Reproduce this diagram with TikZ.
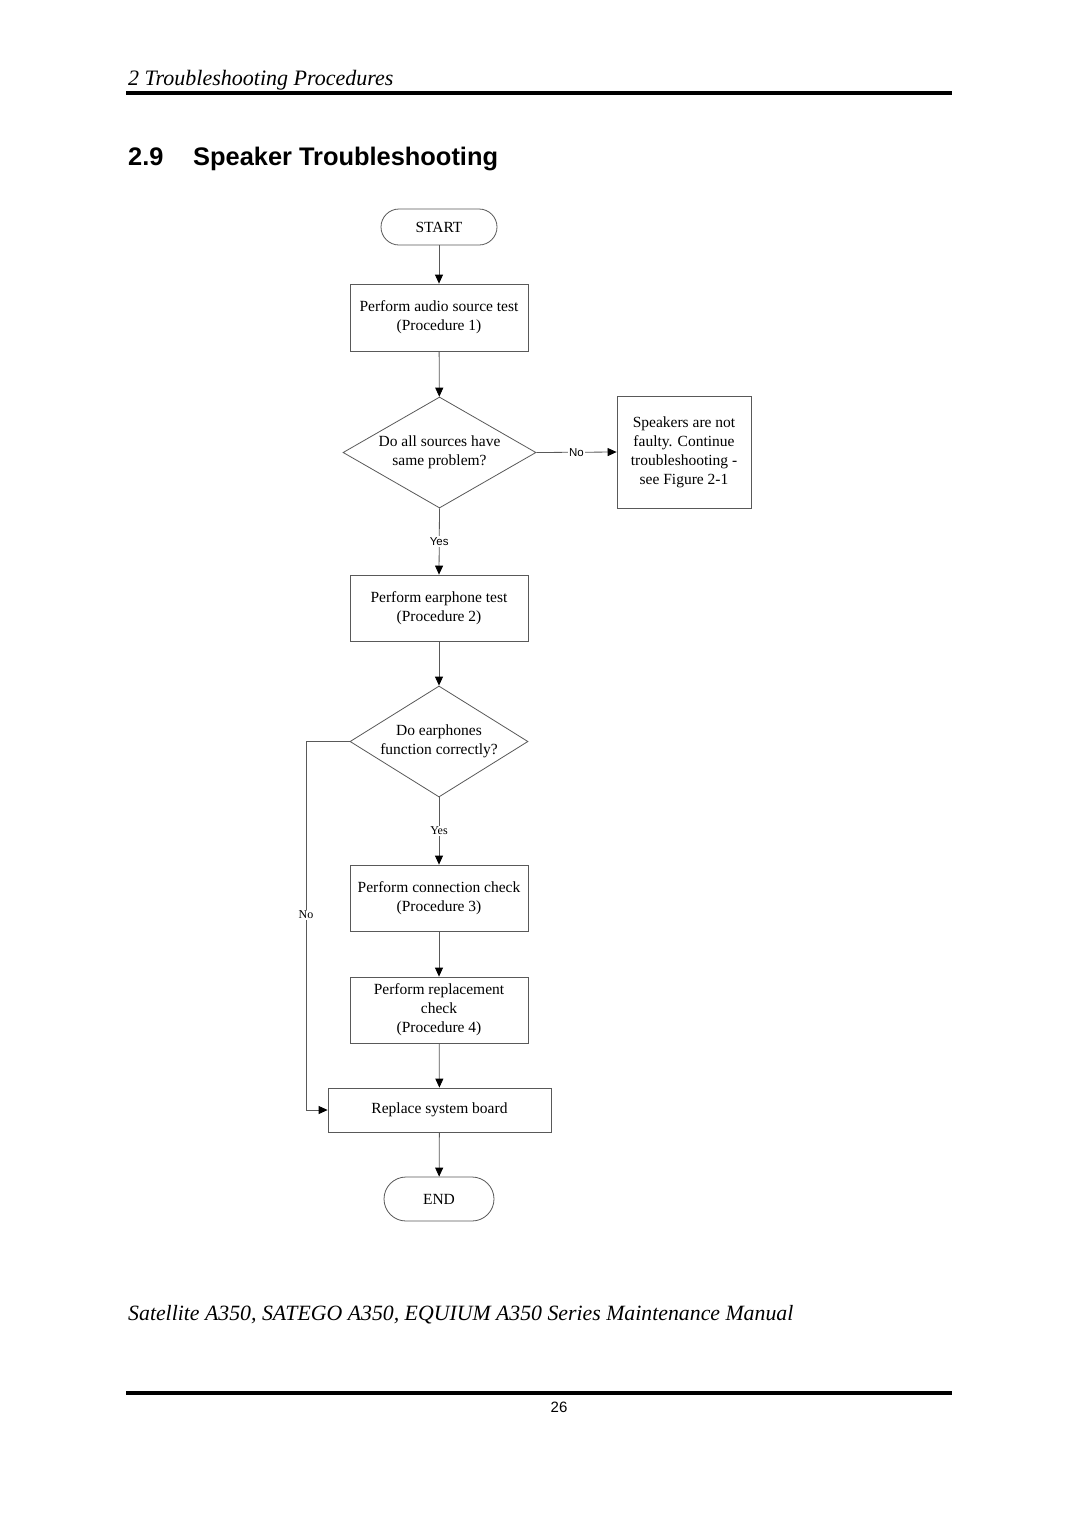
\documentclass[tikz,border=0pt]{standalone}
\usepackage{fontspec}
\setmainfont{Liberation Serif}
\setsansfont{Liberation Sans}
\usetikzlibrary{shapes.geometric,arrows.meta}
\begin{document}
\begin{tikzpicture}[x=1pt,y=-1pt,
  line/.style={draw=black!65, line width=0.8pt},
  box/.style={line, rectangle, inner sep=0pt, align=center, font=\fontsize{15.5}{19}\selectfont},
  term/.style={box},
  dia/.style={line, diamond, inner sep=0pt, align=center, font=\fontsize{15.5}{19}\selectfont},
  arr/.style={line, -{Triangle[length=9pt,width=8pt,color=black]}},
  lab/.style={fill=white, inner sep=1pt, font=\fontsize{12}{12}\selectfont},
  slab/.style={lab, font=\sffamily\fontsize{11.5}{11.5}\selectfont}]
\useasboundingbox[fill=white] (0,0) rectangle (1080,1527);

% header / footer
\node[anchor=base west, inner sep=0pt, font=\fontsize{22}{22}\selectfont\itshape] (hdr) at (128,85) {2 Troubleshooting Procedures};
\draw[line width=4pt] (126,93) -- (952,93);
\node[anchor=base west, inner sep=0pt, font=\sffamily\bfseries\fontsize{25.4}{25.4}\selectfont] (secnum) at (128,165) {2.9};
\node[anchor=base west, inner sep=0pt, font=\sffamily\bfseries\fontsize{25.4}{25.4}\selectfont] (sectitle) at (193,165) {Speaker Troubleshooting};
\node[anchor=base west, inner sep=0pt, font=\fontsize{21.8}{21.8}\selectfont\itshape] (foot) at (128,1320) {Satellite A350, SATEGO A350, EQUIUM A350 Series Maintenance Manual};
\draw[line width=4pt] (126,1392.5) -- (952,1392.5);
\node[anchor=base, inner sep=0pt, font=\sffamily\fontsize{15}{15}\selectfont] (pg) at (559,1412) {26};

% flowchart
\node[term, minimum width=116pt, minimum height=36pt, rounded corners=18pt] (start) at (439,227) {START};
\node[box, minimum width=178pt, minimum height=67pt] (p1) at (439,317.5) {Perform audio source test\\(Procedure 1)};
\node[dia, minimum width=193pt, minimum height=111pt, aspect=1.74] (d1) at (439.5,452.5) {Do all sources have\\same problem?};
\node[box, minimum width=134pt, minimum height=112pt] (sp) at (684,452) {Speakers are not\\faulty. Continue\\troubleshooting -\\see Figure 2-1};
\node[box, minimum width=178pt, minimum height=66pt] (p2) at (439,608) {Perform earphone test\\(Procedure 2)};
\node[dia, minimum width=178pt, minimum height=111pt, aspect=1.6] (d2) at (439,741.5) {Do earphones\\function correctly?};
\node[box, minimum width=178pt, minimum height=66pt] (p3) at (439,898) {Perform connection check\\(Procedure 3)};
\node[box, minimum width=178pt, minimum height=66pt] (p4) at (439,1010) {Perform replacement\\check\\(Procedure 4)};
\node[box, minimum width=223pt, minimum height=44pt] (rep) at (439.5,1110) {Replace system board};
\node[term, minimum width=110pt, minimum height=44pt, rounded corners=22pt] (end) at (439,1199) {END};
\coordinate (lc) at (306,741.5);

\draw[arr] (start) -- (p1);
\draw[arr] (p1) -- (d1);
\draw[arr] (d1.east) -- node[slab] {No} (sp.west);
\draw[arr] (d1.south) -- node[slab] {Yes} (p2.north);
\draw[arr] (p2) -- (d2);
\draw[arr] (d2.south) -- node[lab] {Yes} (p3.north);
\draw[arr] (p3) -- (p4);
\draw[arr] (p4) -- (rep);
\draw[arr] (rep) -- (end);
\draw[arr] (d2.west) -- (lc) |- node[lab, pos=0.235] {No} (rep.west);
\end{tikzpicture}
\end{document}
